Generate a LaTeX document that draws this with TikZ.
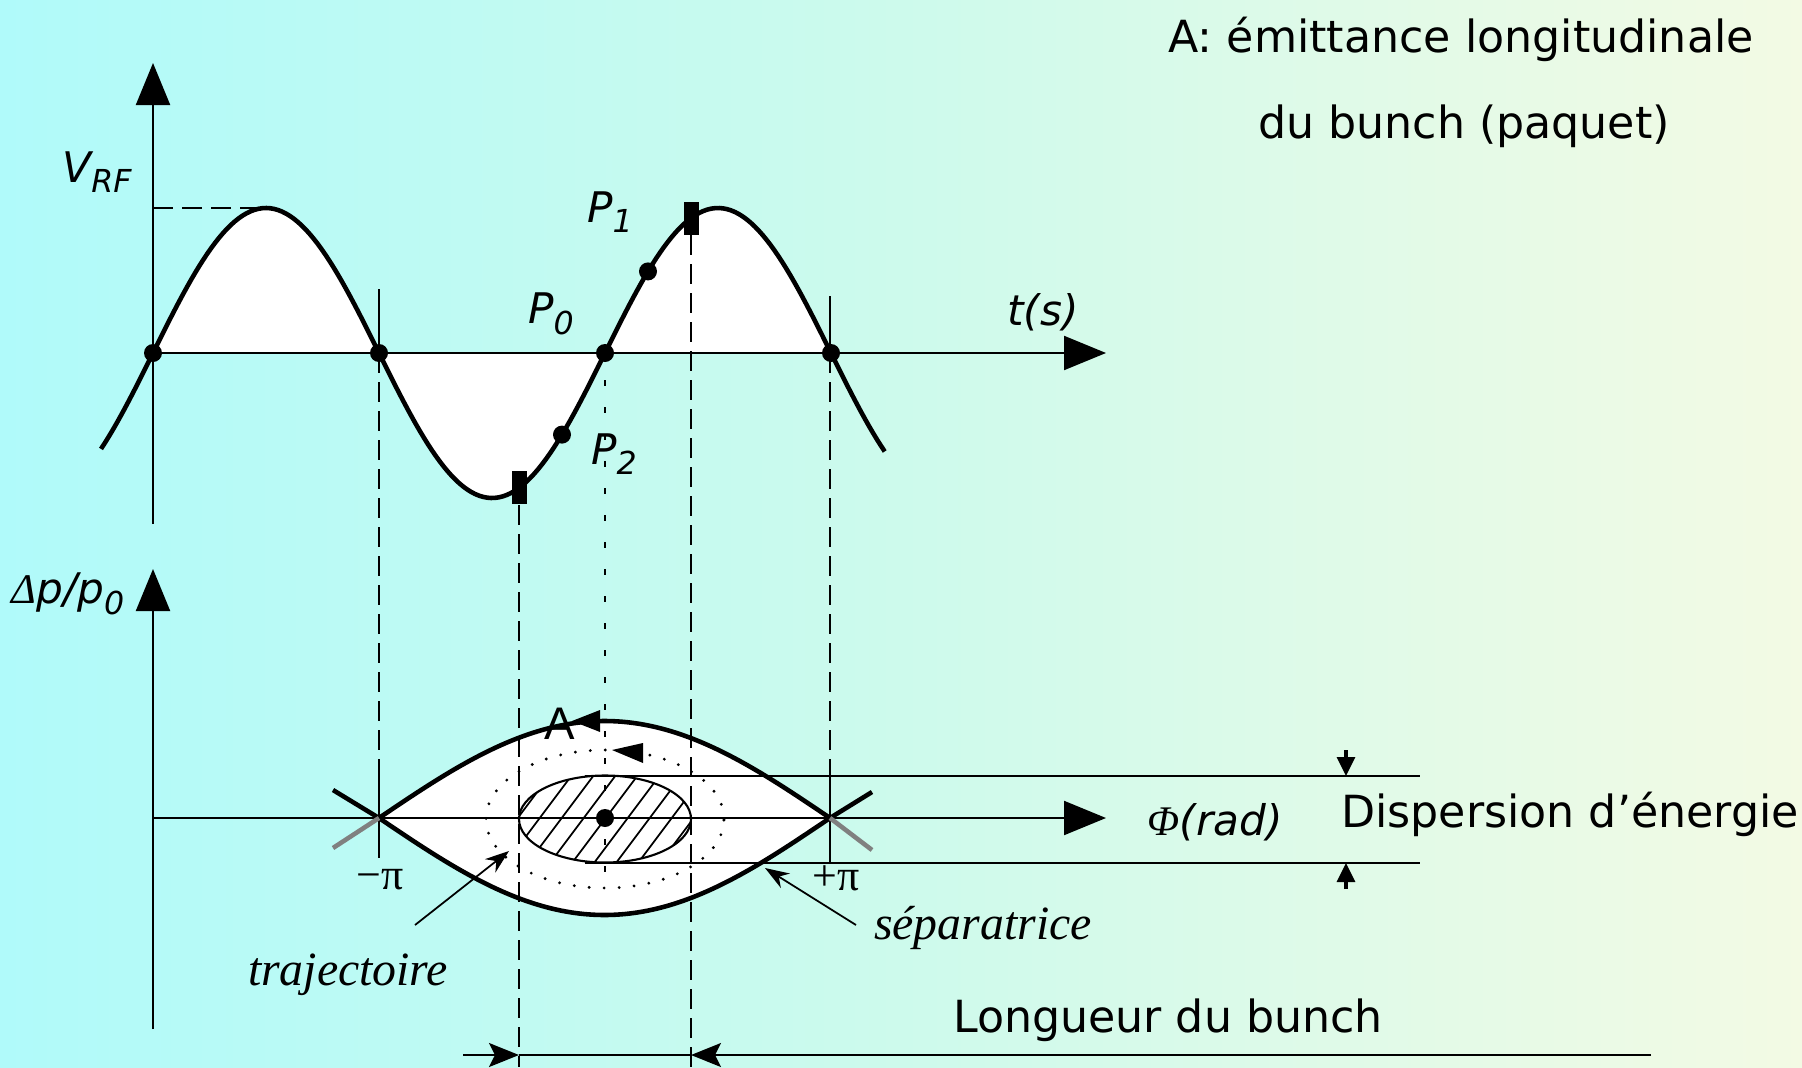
\documentclass[tikz,border=0pt]{standalone}
\usepackage{fontspec}
\setmainfont{DejaVu Sans}
\newfontfamily\timesfont{Liberation Serif}
\newfontfamily\arialfont{Liberation Sans}
\usetikzlibrary{arrows.meta}
\definecolor{bgleft}{RGB}{176,250,250}
\definecolor{bgmid}{RGB}{205,250,236}
\definecolor{bgright}{RGB}{243,250,228}
\newcommand{\lowidx}[1]{\raisebox{-0.45ex}{\fontsize{9}{10}\selectfont #1}}

\begin{document}
\begin{tikzpicture}[
    axisline/.style={line width=0.6pt, -{Triangle[length=4.2mm,width=3.4mm]}},
    wave/.style={line width=1.3pt, line join=round},
    thinline/.style={line width=0.6pt},
    guideline/.style={line width=0.7pt, dash pattern=on 2mm off 0.9mm},
    dotguide/.style={line width=0.8pt, dash pattern=on 0.6mm off 2.1mm},
    pointer/.style={line width=0.5pt, -{Stealth[length=2.4mm,width=1.7mm]}},
    dimarrow/.style={line width=0.6pt, -{Stealth[length=3mm,width=2.4mm,inset=0.6mm]}},
    disparrow/.style={line width=0.9pt, -{Triangle[length=1.9mm,width=1.8mm]}},
    rfbar/.style={rectangle, fill=black, minimum width=1.5mm, minimum height=3.3mm, inner sep=0pt},
    zerodot/.style={circle, fill=black, minimum size=1.8mm, inner sep=0pt},
    lbl/.style={font=\fontsize{12}{14}\selectfont\itshape},
    txt/.style={font=\fontsize{12.6}{15}\selectfont, anchor=base},
    timeslbl/.style={font=\fontsize{13.6}{16}\selectfont\timesfont\itshape},
    declare function={vrf(\x)=7.14+1.45*sin((\x-1.53)/2.26*180);
                      sep(\x)=0.97*cos((\x-6.045)/2.255*90);}
]
\useasboundingbox (0,0) rectangle (18.02,10.67);
\shade[left color=bgleft, right color=bgright, middle color=bgmid] (0,0) rectangle (18.02,10.67);

\coordinate (O1) at (1.53,7.14);
\coordinate (O2) at (1.53,2.49);

% White areas
\fill[white] plot[domain=1.53:8.31, samples=150] (\x,{vrf(\x)}) -- cycle;
\fill[white] plot[domain=3.79:8.30, samples=100] (\x,{2.49+sep(\x)})
    -- plot[domain=8.30:3.79, samples=100] (\x,{2.49-sep(\x)}) -- cycle;

% Guide lines at -pi and +pi
\draw[thinline] (3.79,7.78) -- (3.79,7.14);
\draw[guideline] (3.79,7.14) -- (3.79,2.92);
\draw[thinline] (3.79,2.92) -- (3.79,2.09);
\draw[thinline] (8.30,7.71) -- (8.30,7.14);
\draw[guideline] (8.30,7.14) -- (8.30,2.92);
\draw[thinline] (8.30,2.92) -- (8.30,2.05);
\draw[dotguide] (6.05,7.14) -- (6.05,1.89);

% Axes
\draw[axisline] (1.53,5.43) -- (1.53,10.04);
\draw[axisline] (O1) -- (11.06,7.14);
\draw[axisline] (1.53,0.38) -- (1.53,4.98);
\draw[axisline] (O2) -- (11.06,2.49);
\draw[guideline] (O1 |- 0,8.59) -- (2.66,8.59);

% RF wave
\draw[wave] plot[domain=1.01:8.85, samples=200] (\x,{vrf(\x)});
\foreach \x [count=\i] in {1.53,3.79,6.05,8.31}
    \node[zerodot] (zero\i) at (\x,7.14) {};
\node[zerodot] (p1) at (6.48,{vrf(6.48)}) {};
\node[zerodot] (p2) at (5.62,{vrf(5.62)}) {};
\node[rfbar] (bar1) at (6.91,{vrf(6.91)}) {};
\node[rfbar] (bar2) at (5.19,{vrf(5.19)}) {};
\draw[guideline] (bar1.south) -- (6.91,0);
\draw[guideline] (bar2.south) -- (5.19,0);

% Labels top
\node[lbl] (vrfl) at (0.97,8.95) {V\lowidx{RF}};
\node[lbl] (p1l) at (6.10,8.55) {P\lowidx{1}};
\node[lbl] (p0l) at (5.51,7.53) {P\lowidx{0}};
\node[lbl] (p2l) at (6.14,6.13) {P\lowidx{2}};
\node[lbl] (tl) at (10.43,7.55) {t(s)};
\node[txt] (title1) at (14.61,10.14) {A: émittance longitudinale};
\node[txt] (title2) at (14.64,9.29) {du bunch (paquet)};

% Separatrix
\draw[wave] plot[domain=3.79:8.30, samples=100] (\x,{2.49+sep(\x)});
\draw[wave] plot[domain=3.79:8.30, samples=100] (\x,{2.49-sep(\x)});
\draw[wave] (3.79,2.49) -- (3.33,2.77);
\draw[wave, gray] (3.79,2.49) -- (3.33,2.19);
\draw[wave] (8.30,2.49) -- (8.72,2.75);
\draw[wave, gray] (8.30,2.49) -- (8.72,2.17);

% Bunch
\begin{scope}
\clip (6.05,2.48) ellipse (0.86 and 0.435);
\foreach \k in {-8,...,8}
    \draw[line width=0.5pt] ({6.05+0.22*\k-0.45},1.88) -- ++(0.9,1.2);
\end{scope}
\draw[thinline] (6.05,2.48) ellipse (0.86 and 0.435);
\draw[line width=0.9pt, line cap=round, dash pattern=on 0pt off 1.5mm] (6.05,2.48) ellipse (1.19 and 0.69);
\node[zerodot] (sync) at (6.05,2.49) {};
\fill (6.12,3.17) -- (6.43,3.24) -- (6.43,3.04) -- cycle;
\fill (5.72,3.46) -- (6.00,3.57) -- (6.00,3.35) -- cycle;

% Dispersion and length
\draw[thinline] (5.85,2.91) -- (14.20,2.91);
\draw[thinline] (5.85,2.04) -- (14.20,2.04);
\draw[disparrow] (13.46,3.17) -- (13.46,2.91);
\draw[disparrow] (13.46,1.78) -- (13.46,2.04);
\coordinate (lenL) at (4.63,0.12);
\coordinate (lenR) at (16.51,0.12);
\draw[dimarrow] (lenL) -- (5.19,0.12);
\draw[thinline] (5.19,0.12) -- (6.91,0.12);
\draw[dimarrow] (lenR) -- (6.91,0.12);

% Labels bottom
\node[lbl] (dpl) at (0.68,4.73) {{\timesfont Δ}p/p\lowidx{0}};
\node[lbl] (phil) at (12.15,2.45) {{\timesfont Φ}(rad)};
\node[font=\fontsize{13}{15}\selectfont\arialfont] (emit) at (5.60,3.43) {A};
\node[font=\fontsize{12.5}{14}\selectfont\timesfont] (mpi) at (3.80,1.87) {−π};
\node[font=\fontsize{12.5}{14}\selectfont\timesfont] (ppi) at (8.36,1.89) {+π};
\node[txt] (disp) at (15.70,2.40) {Dispersion d'énergie};
\node[txt] (longl) at (11.68,0.35) {Longueur du bunch};
\node[timeslbl] (trajl) at (3.48,0.92) {trajectoire};
\node[timeslbl] (sepl) at (9.83,1.39) {séparatrice};
\coordinate (trajtail) at (4.15,1.42);
\coordinate (trajtip) at (5.09,2.16);
\coordinate (septail) at (8.56,1.42);
\coordinate (septip) at (7.65,1.99);
\draw[pointer] (trajtail) -- (trajtip);
\draw[pointer] (septail) -- (septip);

\end{tikzpicture}
\end{document}
